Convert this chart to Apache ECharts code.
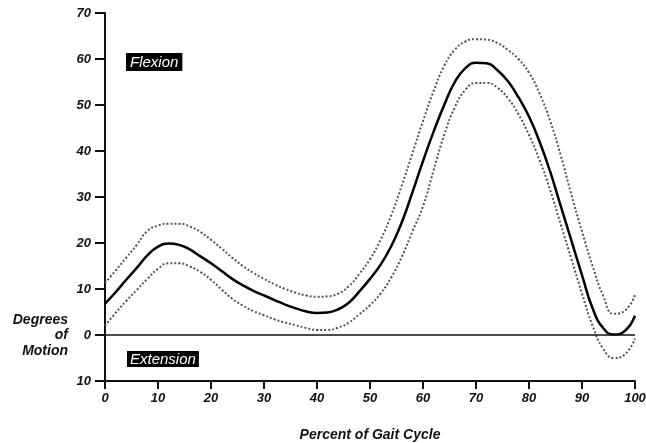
<!DOCTYPE html>
<html>
<head>
<meta charset="utf-8">
<script src="https://cdn.jsdelivr.net/npm/echarts@6/dist/echarts.min.js"></script>
<style>
html,body{margin:0;padding:0;background:#fff;}
#chart{width:646px;height:443px;}
</style>
</head>
<body>
<div id="chart"></div>
<script>
// Percent of gait cycle
var percentCycle = [0,2,4,6,8,10,12,14,16,18,20,22,24,26,28,30,32,34,36,38,40,42,44,46,48,50,52,54,56,58,60,62,64,66,68,70,72,74,76,78,80,82,84,86,88,90,92,94,96,98,100];
// Mean knee flexion (degrees)
var meanMotion = [6.8,9.3,12.0,14.6,17.3,19.2,19.9,19.6,18.6,17.1,15.6,13.9,12.2,10.8,9.6,8.6,7.6,6.6,5.8,5.1,4.8,4.9,5.6,7.0,9.5,12.2,15.3,19.3,24.5,31.0,37.8,44.2,50.0,55.0,58.0,59.2,59.1,57.6,55.2,51.7,47.5,42.0,35.5,28.0,20.5,13.0,5.8,1.5,0.1,0.8,4.2];
// Upper band (dotted)
var upperMotion = [11.3,14.0,16.8,19.6,22.6,23.8,24.2,24.2,23.6,22.4,20.7,18.8,16.8,15.0,13.5,12.2,11.0,10.0,9.2,8.6,8.3,8.4,9.0,10.6,13.3,16.5,20.7,26.0,32.5,39.5,46.5,53.0,58.5,62.0,63.8,64.3,64.2,63.5,62.0,60.0,57.0,52.5,46.5,39.0,30.5,22.5,15.0,8.5,4.6,5.2,8.7];
// Lower band (dotted)
var lowerMotion = [2.0,4.8,7.4,9.8,12.2,14.4,15.6,15.6,14.9,13.7,12.0,9.9,7.9,6.4,5.2,4.3,3.4,2.7,2.1,1.5,1.1,1.1,1.6,2.7,4.5,6.5,9.0,12.5,17.0,22.5,28.0,35.8,43.5,49.5,53.3,54.8,54.8,53.8,51.5,48.0,43.5,38.0,31.5,24.0,16.5,9.0,2.0,-3.0,-5.0,-4.3,-0.8];
// Tick labels
var xTicks = [0,10,20,30,40,50,60,70,80,90,100];
var yTicks = [-10,0,10,20,30,40,50,60,70];

function pairs(vals){ return percentCycle.map(function(x,i){ return [x, vals[i]]; }); }

var FONT = 'Liberation Sans, Arial, sans-serif';
var chart = echarts.init(document.getElementById('chart'), null, {renderer:'canvas'});
var labelStyle = {color:'#111', fontFamily:FONT, fontStyle:'italic', fontWeight:'bold', fontSize:13};

chart.setOption({
  animation:false,
  backgroundColor:'#fff',
  grid:{left:105, right:11, top:13, bottom:62, containLabel:false, outerBoundsMode:'none'},
  xAxis:{
    type:'value', min:0, max:100, interval:10,
    name:'Percent of Gait Cycle', nameLocation:'middle', nameGap:47,
    nameTextStyle:{color:'#111', fontFamily:FONT, fontStyle:'italic', fontWeight:'bold', fontSize:14},
    axisLine:{show:true, onZero:false, lineStyle:{color:'#111', width:2}},
    axisTick:{show:true, length:8, lineStyle:{color:'#111', width:2}},
    axisLabel:Object.assign({margin:11, formatter:function(v){return xTicks.indexOf(v)>=0 ? String(v) : '';}}, labelStyle),
    splitLine:{show:false}
  },
  yAxis:{
    type:'value', min:-10, max:70, interval:10,
    axisLine:{show:true, onZero:false, lineStyle:{color:'#111', width:2}},
    axisTick:{show:true, length:10, lineStyle:{color:'#111', width:2}},
    axisLabel:Object.assign({margin:14, formatter:function(v){return yTicks.indexOf(v)>=0 ? String(Math.abs(v)) : '';}}, labelStyle),
    splitLine:{show:false}
  },
  series:[
    {
      type:'line', data:pairs(upperMotion), smooth:0.5, symbol:'none',
      lineStyle:{color:'#555', width:2, type:'dotted'}, z:2
    },
    {
      type:'line', data:pairs(lowerMotion), smooth:0.5, symbol:'none',
      lineStyle:{color:'#555', width:2, type:'dotted'}, z:2
    },
    {
      type:'line', data:pairs(meanMotion), smooth:0.5, symbol:'none',
      lineStyle:{color:'#000', width:2.5}, z:3,
      markLine:{
        silent:true, symbol:['none','none'], label:{show:false},
        lineStyle:{color:'#111', width:1.5, type:'solid'},
        data:[{yAxis:0}]
      }
    }
  ],
  graphic:[
    {type:'text', left:126, top:53, style:{text:'Flexion', fill:'#fff', backgroundColor:'#000', padding:[2,4,1,4], font:'italic 15px '+FONT}},
    {type:'text', left:127, top:351, style:{text:'Extension', fill:'#fff', backgroundColor:'#000', padding:[1,3,0,3], font:'italic 15px '+FONT}},
    {type:'text', right:578, top:313, style:{text:'Degrees', fill:'#111', font:'italic bold 14px '+FONT, align:'right'}},
    {type:'text', right:578, top:328, style:{text:'of', fill:'#111', font:'italic bold 14px '+FONT, align:'right'}},
    {type:'text', right:578, top:344, style:{text:'Motion', fill:'#111', font:'italic bold 14px '+FONT, align:'right'}}
  ]
});
</script>
</body>
</html>
